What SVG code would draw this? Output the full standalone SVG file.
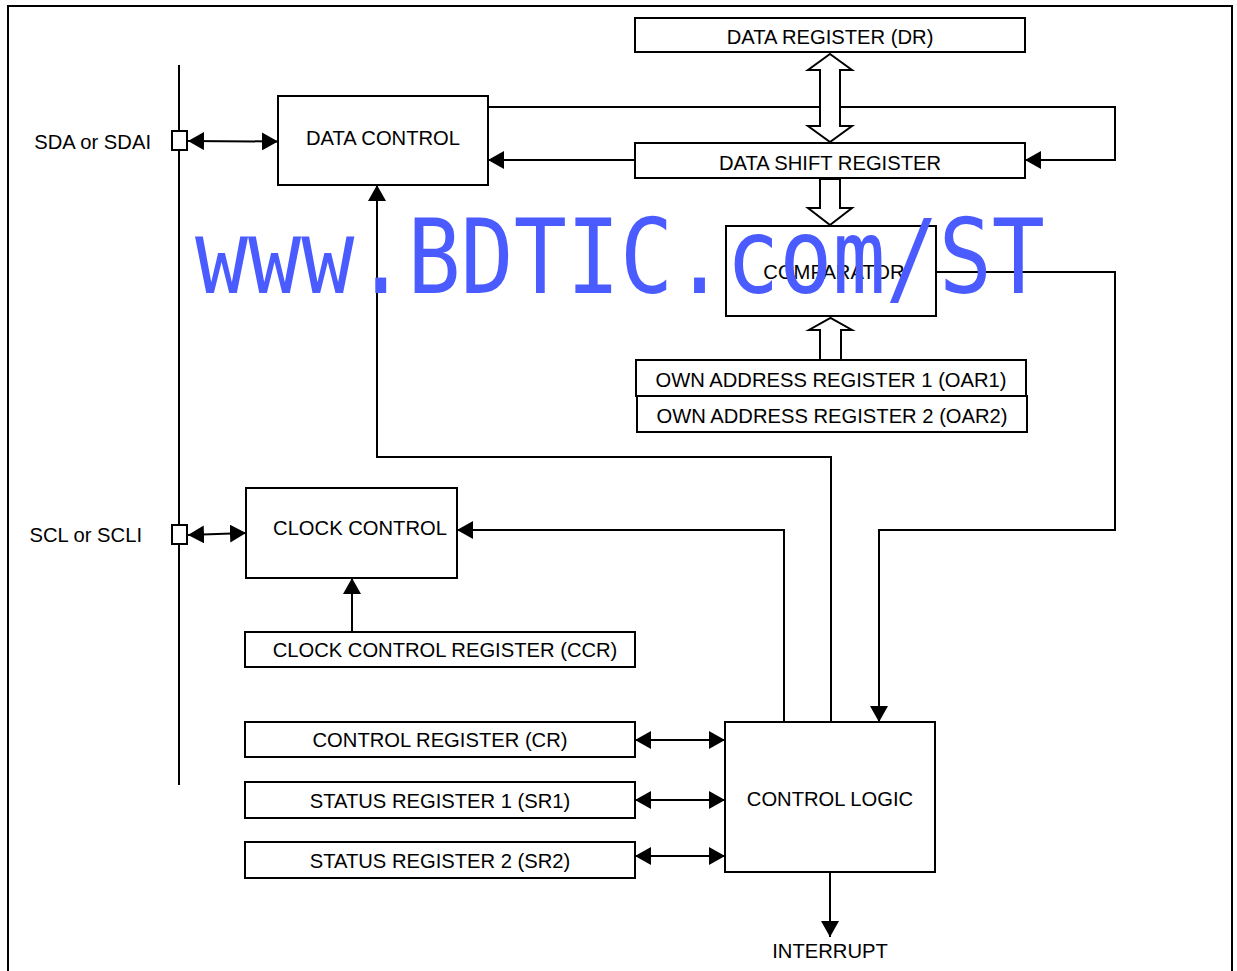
<svg xmlns="http://www.w3.org/2000/svg" width="1237" height="971" viewBox="0 0 1237 971">
<style>
.box{fill:#fff;stroke:#000;stroke-width:2}
.lbl{font-family:"Liberation Sans",Arial,sans-serif;font-size:20.2px;fill:#000;text-anchor:middle}
.side{font-family:"Liberation Sans",Arial,sans-serif;font-size:20.2px;fill:#000;text-anchor:end}
.ln{fill:none;stroke:#000;stroke-width:2}
.hollow{fill:#fff;stroke:#000;stroke-width:2;stroke-linejoin:miter}
.wm{font-family:"DejaVu Sans Mono",monospace;font-size:103px;fill:#4a5cff}
</style>
<defs>
<marker id="ah" markerUnits="userSpaceOnUse" markerWidth="16" markerHeight="18" viewBox="0 0 16 18" refX="16" refY="9" orient="auto-start-reverse">
<path d="M0,0 L16,9 L0,18 z" fill="#000"/>
</marker>
</defs>
<rect x="0" y="0" width="1237" height="971" fill="#fff"/>
<rect x="8" y="6" width="1224" height="990" fill="none" stroke="#000" stroke-width="2"/>

<g id="bus">
<line x1="179" y1="65" x2="179" y2="785" class="ln"/>
</g>

<g id="connectors">
<line x1="188" y1="141" x2="278" y2="141.5" class="ln" marker-start="url(#ah)" marker-end="url(#ah)"/>
<line x1="188" y1="535" x2="246" y2="533" class="ln" marker-start="url(#ah)" marker-end="url(#ah)"/>
<polyline points="488,107 1115,107 1115,160 1025,160" class="ln" marker-end="url(#ah)"/>
<line x1="635" y1="160" x2="488" y2="160" class="ln" marker-end="url(#ah)"/>
<polyline points="936,272 1115,272 1115,530 879,530 879,722" class="ln" marker-end="url(#ah)"/>
<polyline points="831,722 831,457 377,457 377,185" class="ln" marker-end="url(#ah)"/>
<polyline points="784,722 784,530 457,530" class="ln" marker-end="url(#ah)"/>
<line x1="352" y1="632" x2="352" y2="578" class="ln" marker-end="url(#ah)"/>
<line x1="635" y1="740" x2="725" y2="740" class="ln" marker-start="url(#ah)" marker-end="url(#ah)"/>
<line x1="635" y1="800" x2="725" y2="800" class="ln" marker-start="url(#ah)" marker-end="url(#ah)"/>
<line x1="635" y1="856" x2="725" y2="856" class="ln" marker-start="url(#ah)" marker-end="url(#ah)"/>
<line x1="830" y1="872" x2="830" y2="937" class="ln" marker-end="url(#ah)"/>
<polygon points="830,54 852,70 840,70 840,126 852,126 830,142 808,126 820,126 820,70 808,70" class="hollow"/>
<polygon points="820,179 820,208 808,208 830,225 852,208 840,208 840,179" class="hollow"/>
<polygon points="820,360 820,330 809,330 830.5,318 852,330 841,330 841,360" class="hollow"/>
</g>

<g id="sda">
<rect x="172" y="131" width="15" height="19" class="box"/>
<text x="151" y="149" class="side">SDA or SDAI</text>
</g>
<g id="scl">
<rect x="172" y="525" width="15" height="19" class="box"/>
<text x="142" y="542" class="side">SCL or SCLI</text>
</g>

<g id="data-control">
<rect x="278" y="96" width="210" height="89" class="box"/>
<text x="383" y="145" class="lbl">DATA CONTROL</text>
</g>
<g id="data-register">
<rect x="635" y="18" width="390" height="34" class="box"/>
<text x="830" y="44" class="lbl">DATA REGISTER (DR)</text>
</g>
<g id="data-shift-register">
<rect x="635" y="143" width="390" height="35" class="box"/>
<text x="830" y="170" class="lbl">DATA SHIFT REGISTER</text>
</g>
<g id="comparator">
<rect x="726" y="226" width="210" height="90" class="box"/>
<text x="834" y="279" class="lbl">COMPARATOR</text>
</g>
<g id="oar1">
<rect x="636" y="360" width="390" height="36" class="box"/>
<text x="831" y="387" class="lbl">OWN ADDRESS REGISTER 1 (OAR1)</text>
</g>
<g id="oar2">
<rect x="637" y="396" width="390" height="36" class="box"/>
<text x="832" y="423" class="lbl">OWN ADDRESS REGISTER 2 (OAR2)</text>
</g>
<g id="clock-control">
<rect x="246" y="488" width="211" height="90" class="box"/>
<text x="360" y="535" class="lbl">CLOCK CONTROL</text>
</g>
<g id="ccr">
<rect x="245" y="632" width="390" height="35" class="box"/>
<text x="445" y="657" class="lbl">CLOCK CONTROL REGISTER (CCR)</text>
</g>
<g id="cr">
<rect x="245" y="722" width="390" height="35" class="box"/>
<text x="440" y="747" class="lbl">CONTROL REGISTER (CR)</text>
</g>
<g id="sr1">
<rect x="245" y="782" width="390" height="36" class="box"/>
<text x="440" y="808" class="lbl">STATUS REGISTER 1 (SR1)</text>
</g>
<g id="sr2">
<rect x="245" y="842" width="390" height="36" class="box"/>
<text x="440" y="868" class="lbl">STATUS REGISTER 2 (SR2)</text>
</g>
<g id="control-logic">
<rect x="725" y="722" width="210" height="150" class="box"/>
<text x="830" y="806" class="lbl">CONTROL LOGIC</text>
</g>
<g id="interrupt">
<text x="830" y="958" class="lbl">INTERRUPT</text>
</g>

<text x="195" y="293" class="wm" textLength="850" lengthAdjust="spacingAndGlyphs">www.BDTIC.com/ST</text>
</svg>
